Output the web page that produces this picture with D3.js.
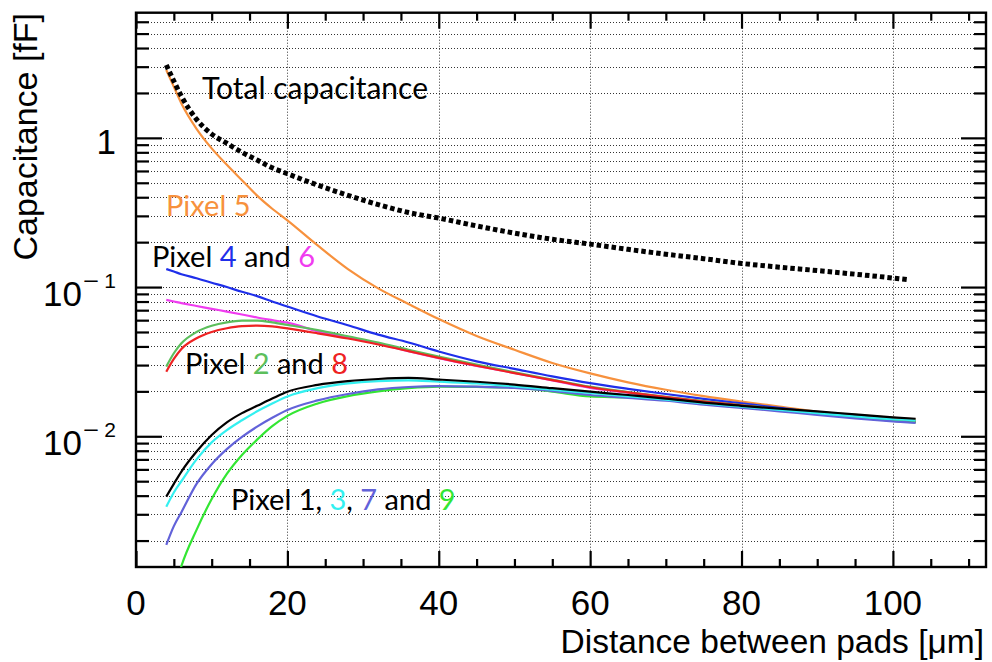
<!DOCTYPE html>
<html>
<head>
<meta charset="utf-8">
<script src="https://cdn.jsdelivr.net/npm/d3@7"></script>
<style>
  html, body { margin: 0; padding: 0; background: #fff; }
  svg { display: block; }
</style>
</head>
<body>
<svg id="chart" width="992" height="662"></svg>
<script>
// ---------------- DATA ----------------
const distance = [4,5,6,8,10,12,14,16,18,20,24,28,32,36,40,45,50,55,60,65,70,75,80,85,90,95,100,103];
const distanceTotal = [4,5,6,8,10,12,14,16,18,20,24,28,32,36,40,45,50,55,60,65,70,75,80,85,90,95,100,102];

const totalCap = [3.08,2.4,1.9,1.33,1.06,0.92,0.8,0.71,0.63,0.575,0.482,0.412,0.357,0.316,0.29,0.257,0.23,0.209,0.194,0.179,0.166,0.155,0.144,0.136,0.129,0.122,0.115,0.112];
const pixel5 = [2.85,2.2,1.7,1.15,0.85,0.66,0.52,0.41,0.335,0.28,0.19,0.132,0.098,0.077,0.061,0.047,0.038,0.031,0.0264,0.023,0.0205,0.0186,0.0171,0.0158,0.0146,0.0139,0.0133,0.013];
const pixel4 = [0.132,0.127,0.122,0.1146,0.107,0.1,0.093,0.087,0.08,0.074,0.0635,0.0555,0.048,0.0425,0.037,0.0318,0.0283,0.0252,0.0227,0.0208,0.0192,0.0178,0.0166,0.0155,0.0144,0.0136,0.0129,0.0126];
const pixel6 = [0.082,0.08,0.078,0.0747,0.0715,0.0685,0.0655,0.0625,0.06,0.0577,0.0505,0.0458,0.0418,0.0372,0.0334,0.0296,0.0266,0.0237,0.0211,0.0196,0.0182,0.017,0.016,0.015,0.0141,0.0134,0.0127,0.0125];
const pixel2 = [0.0293,0.036,0.042,0.05,0.055,0.058,0.0595,0.0595,0.058,0.0558,0.0515,0.0468,0.0425,0.038,0.0342,0.0302,0.0268,0.024,0.0215,0.0198,0.0184,0.0172,0.0162,0.0152,0.0143,0.0135,0.0129,0.0126];
const pixel8 = [0.0271,0.033,0.0385,0.0454,0.05,0.053,0.0548,0.0552,0.0545,0.0528,0.049,0.0452,0.0412,0.0372,0.0335,0.0297,0.0265,0.0238,0.0213,0.0197,0.0183,0.0171,0.0161,0.0151,0.0142,0.0134,0.0128,0.0125];
const pixel1 = [0.00394,0.0048,0.0058,0.0079,0.0102,0.0124,0.0143,0.016,0.0179,0.0199,0.0221,0.0234,0.0242,0.0246,0.024,0.0232,0.0222,0.021,0.0199,0.0189,0.0179,0.0168,0.016,0.0153,0.0147,0.014,0.0134,0.0131];
const pixel3 = [0.00337,0.0042,0.005,0.007,0.0091,0.011,0.0128,0.0147,0.0166,0.0185,0.021,0.0226,0.0234,0.0237,0.0232,0.0226,0.0216,0.0205,0.0195,0.0185,0.0176,0.0166,0.0158,0.015,0.0143,0.0136,0.013,0.0128];
const pixel7 = [0.00187,0.0025,0.0031,0.0048,0.0065,0.0082,0.0099,0.0116,0.0133,0.015,0.0174,0.0192,0.0206,0.0214,0.0217,0.0215,0.0211,0.0201,0.0189,0.0181,0.0173,0.0163,0.0155,0.0147,0.0139,0.0132,0.0126,0.0123];
const pixel9 = [0.0006,0.0009,0.00135,0.00236,0.0038,0.0056,0.0075,0.0095,0.0117,0.0137,0.0166,0.0186,0.02,0.021,0.0215,0.0214,0.0212,0.0199,0.0185,0.0182,0.0176,0.0165,0.0157,0.0149,0.0141,0.0134,0.0127,0.0124];

const xTickValues = [0,20,40,60,80,100];
const xTickLabels = ["0","20","40","60","80","100"];
const yTickValues = [1,0.1,0.01];
const yTickBase = ["1","10","10"];
const yTickExp = ["","1","2"];

const xTitle = "Distance between pads [μm]";
const yTitle = "Capacitance [fF]";

// ---------------- LAYOUT ----------------
const svg = d3.select("#chart");
const L = 136, R = 986, T = 12.7, B = 567;
const x = d3.scaleLinear().domain([0, 112.3]).range([L, R]);
const y = d3.scaleLog().domain([0.00133, 6.9]).range([B, T]);

const xMinor = d3.range(5, 112, 5).filter(v => v % 20 !== 0);
const yMinor = [];
[0.001, 0.01, 0.1, 1].forEach(d => { for (let k = 2; k <= 9; k++) { const v = +(k * d).toPrecision(3); if (v > y.domain()[0] && v < y.domain()[1]) yMinor.push(v); } });
const yAll = yMinor.concat(yTickValues);

const tickFont = "'Liberation Sans', Arial, Helvetica, sans-serif";
const annFont = "Lato, 'Open Sans', sans-serif";

// grid
const grid = svg.append("g").attr("stroke", "#333").attr("stroke-width", 1).attr("stroke-dasharray", "1 2").attr("fill", "none");
grid.selectAll("line.h").data(yAll).join("line")
  .attr("x1", L).attr("x2", R).attr("y1", d => Math.round(y(d)) + 0.5).attr("y2", d => Math.round(y(d)) + 0.5);
grid.selectAll("line.v").data(xTickValues.filter(v => v > 0)).join("line")
  .attr("x1", d => Math.round(x(d)) + 0.5).attr("x2", d => Math.round(x(d)) + 0.5).attr("y1", T).attr("y2", B);

// axes ticks (inward)
function ticksAxis(axisFn, scale, values, size, tx, ty) {
  const g = svg.append("g").attr("transform", `translate(${tx},${ty})`)
    .call(axisFn(scale).tickValues(values).tickSizeInner(size).tickSizeOuter(0).tickFormat(""));
  g.select(".domain").remove();
  g.selectAll(".tick line").attr("stroke", "#000").attr("stroke-width", 2.2);
  return g;
}
ticksAxis(d3.axisBottom, x, xTickValues, -16, 0, B);
ticksAxis(d3.axisBottom, x, xMinor, -8, 0, B);
ticksAxis(d3.axisTop, x, xTickValues, -16, 0, T);
ticksAxis(d3.axisTop, x, xMinor, -8, 0, T);
ticksAxis(d3.axisLeft, y, yTickValues, -26, L, 0);
ticksAxis(d3.axisLeft, y, yMinor, -13, L, 0);
ticksAxis(d3.axisRight, y, yTickValues, -25, R, 0);
ticksAxis(d3.axisRight, y, yMinor, -12, R, 0);

// frame
svg.append("rect").attr("x", L).attr("y", T).attr("width", R - L).attr("height", B - T)
  .attr("fill", "none").attr("stroke", "#000").attr("stroke-width", 2.4);

// x tick labels
svg.append("g").selectAll("text").data(xTickValues).join("text")
  .attr("x", d => x(d)).attr("y", 615).attr("text-anchor", "middle")
  .attr("font-family", tickFont).attr("font-size", 35).attr("fill", "#000")
  .text((d, i) => xTickLabels[i]);

// y tick labels
const yl = svg.append("g").attr("font-family", tickFont).attr("fill", "#000");
yTickValues.forEach((v, i) => {
  if (yTickExp[i] === "") {
    yl.append("text").attr("x", 116).attr("y", y(v) + 16).attr("text-anchor", "end")
      .attr("font-size", 35).text(yTickBase[i]);
  } else {
    yl.append("text").attr("x", 82).attr("y", y(v) + 19).attr("text-anchor", "end")
      .attr("font-size", 35).text(yTickBase[i]);
    // superscript: minus sign drawn as text, exponent digit
    yl.append("text").attr("x", 83).attr("y", y(v) + 1).attr("text-anchor", "start")
      .attr("font-size", 21).attr("transform", `translate(0,0)`)
      .text("−").attr("textLength", 16).attr("lengthAdjust", "spacingAndGlyphs");
    yl.append("text").attr("x", 116).attr("y", y(v) + 1).attr("text-anchor", "end")
      .attr("font-size", 21).text(yTickExp[i]);
  }
});

// axis titles
svg.append("text").attr("transform", `translate(37,13) rotate(-90)`).attr("text-anchor", "end")
  .attr("font-family", tickFont).attr("font-size", 34).attr("fill", "#000").text(yTitle);
svg.append("text").attr("x", 984).attr("y", 653).attr("text-anchor", "end")
  .attr("font-family", tickFont).attr("font-size", 33.5).attr("fill", "#000").text(xTitle);

// clip
svg.append("clipPath").attr("id", "plotclip").append("rect")
  .attr("x", L).attr("y", T).attr("width", R - L).attr("height", B - T);

const line = d3.line().x(d => x(d[0])).y(d => y(d[1])).curve(d3.curveMonotoneX);
const series = [
  { v: pixel5, c: "#F7913D" },
  { v: pixel4, c: "#1F2FEA" },
  { v: pixel6, c: "#F03CF0" },
  { v: pixel2, c: "#5CBF5C" },
  { v: pixel8, c: "#EE2222" },
  { v: pixel9, c: "#33E633" },
  { v: pixel7, c: "#6262D9" },
  { v: pixel3, c: "#33F0F0" },
  { v: pixel1, c: "#000000" }
];
const lines = svg.append("g").attr("clip-path", "url(#plotclip)");
series.forEach(s => {
  lines.append("path").datum(distance.map((d, i) => [d, s.v[i]]))
    .attr("d", line).attr("fill", "none").attr("stroke", s.c).attr("stroke-width", 2.2);
});
lines.append("path").datum(distanceTotal.map((d, i) => [d, totalCap[i]]))
  .attr("d", line).attr("fill", "none").attr("stroke", "#000").attr("stroke-width", 5)
  .attr("stroke-dasharray", "4.5 3");

// annotations
const ann = svg.append("g").attr("font-family", annFont).attr("font-size", 29);
function label(xp, yp, parts, fs) {
  const t = ann.append("text").attr("x", xp).attr("y", yp);
  if (fs) t.attr("font-size", fs);
  parts.forEach(p => t.append("tspan").attr("fill", p[1]).text(p[0]));
}
label(202, 99, [["Total capacitance", "#000"]], 30);
label(166, 216, [["Pixel 5", "#F7913D"]]);
label(152, 267, [["Pixel ", "#000"], ["4", "#1F2FEA"], [" and ", "#000"], ["6", "#F03CF0"]]);
label(185, 374, [["Pixel ", "#000"], ["2", "#5CBF5C"], [" and ", "#000"], ["8", "#EE2222"]]);
label(231, 510, [["Pixel 1, ", "#000"], ["3", "#33F0F0"], [", ", "#000"], ["7", "#6262D9"], [" and ", "#000"], ["9", "#33E633"]]);
</script>
</body>
</html>
